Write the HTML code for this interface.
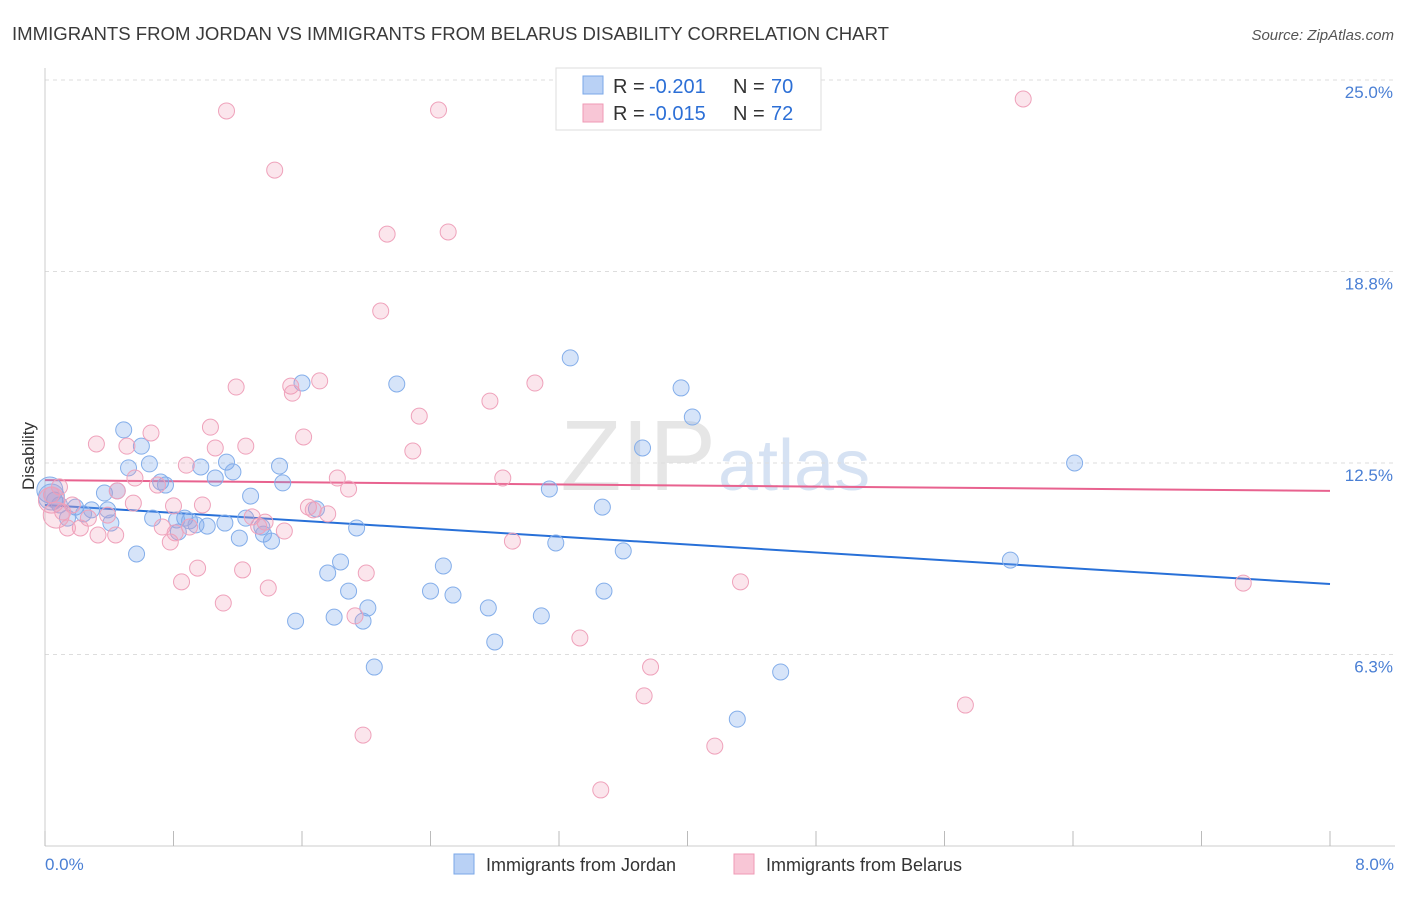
<!DOCTYPE html>
<html><head><meta charset="utf-8"><style>
body{margin:0;background:#fff;font-family:"Liberation Sans",sans-serif;}
svg text{font-family:"Liberation Sans",sans-serif;}
</style></head><body>
<svg id="chart" width="1406" height="892" xmlns="http://www.w3.org/2000/svg">
<text x="12" y="40" font-size="18.4" fill="#3a3a3a" textLength="877" lengthAdjust="spacingAndGlyphs">IMMIGRANTS FROM JORDAN VS IMMIGRANTS FROM BELARUS DISABILITY CORRELATION CHART</text>
<text x="1394" y="40" font-size="15" fill="#555" font-style="italic" text-anchor="end">Source: ZipAtlas.com</text>
<text x="716" y="490" font-size="100" fill="#e6e6e6" font-family="Liberation Serif" text-anchor="end">ZIP</text>
<text x="718" y="490" font-size="72" fill="#d6e2f3" text-anchor="start">atlas</text>
<g id="grid"></g><g id="axes"></g><g id="lines"></g><g id="pts"></g>
<text x="34" y="456" font-size="17" fill="#333" text-anchor="middle" transform="rotate(-90 34 456)">Disability</text>
<text x="45" y="870" font-size="17" fill="#4a7fd4">0.0%</text>
<text x="1394" y="870" font-size="17" fill="#4a7fd4" text-anchor="end">8.0%</text>
<g>
<rect x="556" y="68" width="265" height="62" fill="#fff" stroke="#ddd"/>
<rect x="583" y="76" width="20" height="18" fill="#b9d1f5" stroke="#7aa7e8"/>
<rect x="583" y="104" width="20" height="18" fill="#f8c6d6" stroke="#ef9ab5"/>
<text x="613" y="93" font-size="20" fill="#333">R =</text>
<text x="649" y="93" font-size="20" fill="#2c6fd6">-0.201</text>
<text x="733" y="93" font-size="20" fill="#333">N =</text>
<text x="771" y="93" font-size="20" fill="#2c6fd6">70</text>
<text x="613" y="120" font-size="20" fill="#333">R =</text>
<text x="649" y="120" font-size="20" fill="#2c6fd6">-0.015</text>
<text x="733" y="120" font-size="20" fill="#333">N =</text>
<text x="771" y="120" font-size="20" fill="#2c6fd6">72</text>
</g>
<g>
<rect x="454" y="854" width="20" height="20" fill="#b9d1f5" stroke="#7aa7e8"/>
<text x="486" y="871" font-size="18" fill="#333">Immigrants from Jordan</text>
<rect x="734" y="854" width="20" height="20" fill="#f8c6d6" stroke="#ef9ab5"/>
<text x="766" y="871" font-size="18" fill="#333">Immigrants from Belarus</text>
</g>
</svg>
<script>
const yTicks=[6.25,12.5,18.75,25];
const yTickLabels=["6.3%","12.5%","18.8%","25.0%"];
const xTicks=[0,0.8,1.6,2.4,3.2,4,4.8,5.6,6.4,7.2,8];
const jordanX=[3.27,2.19,3.96,1.60,4.03,0.49,0.60,3.72,6.41,0.65,0.52,1.13,1.46,0.97,1.17,0.72,0.75,1.06,1.48,3.14,0.37,0.45,1.28,3.47,0.06,0.09,0.19,0.29,0.39,0.24,0.14,0.41,0.67,0.87,0.90,0.94,1.01,1.12,1.25,1.35,0.83,1.21,1.36,1.41,1.69,1.94,3.18,3.60,0.57,1.84,1.76,2.48,6.01,1.89,2.40,2.54,3.48,2.01,2.76,1.56,1.80,1.98,3.09,2.80,2.05,4.58,4.31,0.03,0.04,0.82];
const jordanY=[15.93,15.08,14.95,15.11,14.00,13.58,13.05,12.99,12.50,12.47,12.34,12.53,12.40,12.37,12.21,11.88,11.78,12.01,11.85,11.65,11.52,11.59,11.42,11.06,11.29,11.13,11.06,10.97,10.97,10.84,10.70,10.54,10.70,10.70,10.61,10.48,10.44,10.54,10.70,10.41,10.25,10.05,10.18,9.95,11.00,10.38,9.89,9.63,9.53,9.27,8.91,9.14,9.33,8.32,8.32,8.19,8.32,7.77,7.77,7.34,7.47,7.34,7.51,6.66,5.84,5.68,4.14,11.62,11.39,10.64];
const belarusX=[1.13,2.45,6.09,1.43,2.13,2.51,2.09,3.05,1.19,1.53,1.54,1.71,2.77,2.33,1.03,0.66,1.61,0.32,0.51,1.06,1.25,2.29,0.88,1.82,2.85,0.56,0.70,1.89,0.45,0.09,0.04,0.17,0.55,0.80,0.98,1.64,1.67,1.76,0.11,0.27,0.39,0.22,0.33,0.44,0.73,0.90,1.29,1.37,1.33,1.49,0.14,0.78,2.91,0.85,0.95,1.23,1.39,2.00,4.33,7.46,1.11,1.93,3.33,3.77,3.73,5.73,1.98,4.17,3.46,0.04,0.07,0.81];
const belarusY=[23.99,24.02,24.38,22.06,19.97,20.04,17.46,15.11,14.98,15.01,14.78,15.18,14.52,14.03,13.67,13.48,13.35,13.12,13.05,12.99,13.05,12.89,12.43,12.01,12.01,12.01,11.78,11.65,11.59,11.72,11.46,11.13,11.19,11.10,11.13,11.06,10.97,10.84,10.90,10.70,10.80,10.38,10.15,10.15,10.41,10.41,10.74,10.57,10.44,10.28,10.38,9.92,9.95,8.62,9.07,9.01,8.42,8.91,8.62,8.58,7.93,7.51,6.79,5.84,4.90,4.60,3.62,3.26,1.83,11.29,10.80,10.22];
const jordanTrend=[11.13,8.55];
const belarusTrend=[11.94,11.59];
const NS="http://www.w3.org/2000/svg";
const X0=45,X1=1330,Y0=846,PPY=30.64;
function sx(v){return X0+(X1-X0)*v/8;}
function sy(v){return Y0-v*PPY;}
function mk(tag,attrs,parent){const e=document.createElementNS(NS,tag);for(const k in attrs)e.setAttribute(k,attrs[k]);parent.appendChild(e);return e;}
const grid=document.getElementById('grid'),axes=document.getElementById('axes'),lines=document.getElementById('lines'),pts=document.getElementById('pts');
yTicks.forEach((t,i)=>{
 const l=mk('line',{x1:X0,x2:1395,y1:sy(t),y2:sy(t),stroke:'#ddd','stroke-dasharray':'4,4'},grid);
 
 
 const tx=mk('text',{x:1393,y:sy(t)+18,'font-size':17,fill:'#4a7fd4','text-anchor':'end'},grid);
 tx.textContent=yTickLabels[i];
 
 
});
const ya=mk('line',{x1:X0,x2:X0,y1:68,y2:Y0,stroke:'#ccc'},axes);


const xa=mk('line',{x1:X0,x2:1395,y1:Y0,y2:Y0,stroke:'#ccc'},axes);


xTicks.forEach(t=>{
 const l=mk('line',{x1:sx(t),x2:sx(t),y1:Y0-15,y2:Y0,stroke:'#bbb'},axes);
 
 
});
function drawPts(xs,ys,fill,stroke,name){
 xs.forEach((x,i)=>{
  const big=(x<0.1&&i>=xs.length-3);
  const c=mk('circle',{cx:sx(x),cy:sy(ys[i]),r:big?13:8,fill:fill,stroke:stroke,'stroke-width':1},pts);
  
  
 });
}
drawPts(jordanX,jordanY,'rgba(120,165,235,0.3)','#84aeea','jordan-point');
drawPts(belarusX,belarusY,'rgba(240,150,180,0.25)','#efa2bb','belarus-point');
const lb=mk('line',{x1:sx(0),y1:sy(jordanTrend[0]),x2:sx(8),y2:sy(jordanTrend[1]),stroke:'#2870d8','stroke-width':2},lines);


const lp=mk('line',{x1:sx(0),y1:sy(belarusTrend[0]),x2:sx(8),y2:sy(belarusTrend[1]),stroke:'#e8628f','stroke-width':2},lines);


</script>
</body></html>
